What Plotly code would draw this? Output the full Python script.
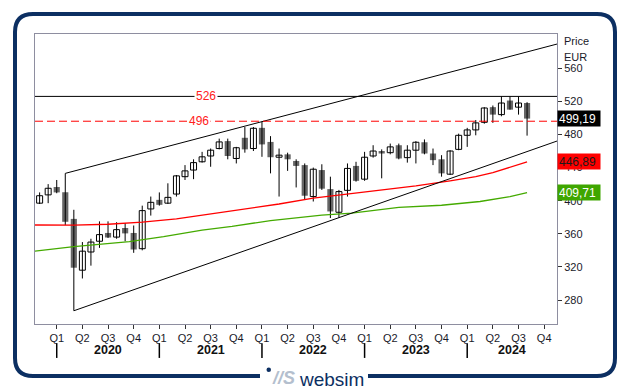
import plotly.graph_objects as go

# ---------------- data ----------------
months = ["2019-11", "2019-12",
          "2020-01", "2020-02", "2020-03", "2020-04", "2020-05", "2020-06",
          "2020-07", "2020-08", "2020-09", "2020-10", "2020-11", "2020-12",
          "2021-01", "2021-02", "2021-03", "2021-04", "2021-05", "2021-06",
          "2021-07", "2021-08", "2021-09", "2021-10", "2021-11", "2021-12",
          "2022-01", "2022-02", "2022-03", "2022-04", "2022-05", "2022-06",
          "2022-07", "2022-08", "2022-09", "2022-10", "2022-11", "2022-12",
          "2023-01", "2023-02", "2023-03", "2023-04", "2023-05", "2023-06",
          "2023-07", "2023-08", "2023-09", "2023-10", "2023-11", "2023-12",
          "2024-01", "2024-02", "2024-03", "2024-04", "2024-05", "2024-06",
          "2024-07", "2024-08"]

opens = [397, 407,
         416.5, 410.2, 378, 316, 338, 351,
         361, 356, 367, 361, 342, 390,
         401, 397, 408, 429, 437, 447,
         454, 463, 472, 451, 476, 463,
         488, 471, 452.5, 456, 448, 443,
         405, 437, 414, 386, 412.5, 442,
         426, 454, 460, 458, 467, 452,
         461, 470.6, 457, 450, 432, 462,
         479, 485.5, 494.7, 513, 504, 521,
         513, 518]
highs = [410, 420,
         425, 433, 389, 350, 354, 375,
         375, 374, 373, 370, 394, 405,
         410, 421, 431, 443, 450, 459,
         463, 475, 475, 465, 489, 489,
         495.5, 478, 463, 458, 450, 445,
         440, 444, 429, 413, 445, 447,
         459, 467, 462, 469, 469, 467,
         472, 474, 463, 455, 461, 481,
         488, 497.5, 513, 515, 526, 526,
         526, 519]
lows = [396, 397,
        409, 370.5, 267, 306, 321.5, 343,
        355, 354, 351, 337, 340, 382,
        394, 396, 405, 425, 426, 446,
        441, 462, 450, 445, 458, 460,
        453, 433, 405, 436, 416, 402,
        399, 413, 379, 379.5, 405, 423,
        424, 452, 427, 456, 450, 446,
        445, 456, 443, 429, 431, 461,
        465, 479, 493, 494, 502, 510,
        504, 478.6]
closes = [406, 415,
          410, 374.5, 319, 339, 350, 359,
          355.5, 365, 360.5, 341, 388, 398,
          395, 404, 430, 436, 446, 453,
          461, 471, 454, 464, 462, 487.5,
          468, 452.5, 455, 450, 442, 406,
          438, 414.5, 387, 411, 439, 424,
          452.5, 460, 457, 465, 451, 461,
          470.6, 457, 449, 433, 460, 479,
          485.5, 494, 512, 504, 518, 510,
          518, 499.19]

# moving averages (month index from Jan 2020, value)
red_ma_x = [-2.6, 2, 6, 10, 14, 18, 22, 26, 30, 34, 38, 42, 46, 49, 51, 53, 55]
red_ma = [370.6, 370.5, 371.5, 374, 378, 384, 390, 396, 403, 408, 413, 418, 424, 429, 434, 440, 446.89]
green_ma_x = [-2.6, 2, 8.5, 12.5, 17, 20.5, 25, 31, 34.5, 40, 45, 49.5, 53, 55]
green_ma = [339, 344.5, 350.5, 356.5, 364.5, 369, 376, 382.5, 385, 392, 394.5, 399, 405, 409.71]

resistance = 526
support = 496
y_ticks = [280, 320, 360, 400, 440, 480, 520, 560]
quarter_labels = ["Q1", "Q2", "Q3", "Q4"]
years = [2020, 2021, 2022, 2023, 2024]

# ---------------- helpers ----------------
def midx(s):
    y, m = s.split("-")
    return (int(y) - 2020) * 12 + int(m) - 1

xs = [midx(m) for m in months]
X_MIN, X_MAX = -2.54, 58.5
Y_MIN, Y_MAX = 251, 601.4
FONT = "Arial, Liberation Sans, sans-serif"
NAVY = "#0c2f62"

fig = go.Figure()

# wicks
wx, wy = [], []
for x, h, l in zip(xs, highs, lows):
    wx += [x, x, None]
    wy += [l, h, None]
fig.add_trace(go.Scatter(x=wx, y=wy, mode="lines", line=dict(color="black", width=1),
                         hoverinfo="skip", showlegend=False))

# moving averages
fig.add_trace(go.Scatter(x=red_ma_x, y=red_ma, mode="lines",
                         line=dict(color="#ff0000", width=1.3), showlegend=False))
fig.add_trace(go.Scatter(x=green_ma_x, y=green_ma, mode="lines",
                         line=dict(color="#44aa00", width=1.3), showlegend=False))

# trend channel lines (anchored on candle extremes, extended to the right edge)
def ext_line(x1, y1, x2, y2):
    slope = (y2 - y1) / (x2 - x1)
    return [x1, X_MAX], [y1, y1 + slope * (X_MAX - x1)]

i_feb20 = months.index("2020-02"); i_jan22 = months.index("2022-01")
i_mar20 = months.index("2020-03"); i_oct22 = months.index("2022-10")
ux, uy = ext_line(xs[i_feb20], highs[i_feb20], xs[i_jan22], highs[i_jan22])
lx, ly = ext_line(xs[i_mar20], lows[i_mar20], xs[i_oct22], lows[i_oct22])
fig.add_trace(go.Scatter(x=ux, y=uy, mode="lines", line=dict(color="black", width=1), showlegend=False))
fig.add_trace(go.Scatter(x=lx, y=ly, mode="lines", line=dict(color="black", width=1), showlegend=False))

# horizontal levels
fig.add_trace(go.Scatter(x=[X_MIN, X_MAX], y=[resistance, resistance], mode="lines",
                         line=dict(color="black", width=1), showlegend=False))
fig.add_trace(go.Scatter(x=[X_MIN, X_MAX], y=[support, support], mode="lines",
                         line=dict(color="#ff0000", width=1, dash="8px,4px"), showlegend=False))

# candle bodies
ux_b, ub, uh, dx_b, db, dh = [], [], [], [], [], []
for x, o, c in zip(xs, opens, closes):
    lo, hi = min(o, c), max(o, c)
    hgt = max(hi - lo, 0.8)
    if c >= o:
        ux_b.append(x); ub.append(lo); uh.append(hgt)
    else:
        dx_b.append(x); db.append(lo); dh.append(hgt)
fig.add_trace(go.Bar(x=ux_b, y=uh, base=ub, width=0.7,
                     marker=dict(color="white", line=dict(color="black", width=1)), showlegend=False))
fig.add_trace(go.Bar(x=dx_b, y=dh, base=db, width=0.72,
                     marker=dict(color="#666666", line=dict(color="#666666", width=0)), showlegend=False))

# level labels
fig.add_annotation(x=17.5, y=resistance, text=str(resistance), showarrow=False,
                   font=dict(color="#ff2020", size=12, family=FONT), bgcolor="white", borderpad=1)
fig.add_annotation(x=16.6, y=support, text=str(support), showarrow=False,
                   font=dict(color="#ff2020", size=12, family=FONT), bgcolor="white", borderpad=1)

# price boxes on right axis
def fmt(v):
    return f"{v:.2f}".replace(".", ",")

for val, bg, fg in [(closes[-1], "black", "white"), (red_ma[-1], "#ff0000", "#1a1a1a"),
                    (green_ma[-1], "#3fa600", "white")]:
    fig.add_annotation(xref="paper", x=1.0, xanchor="left", y=val, yref="y", yanchor="middle",
                       text=fmt(val), showarrow=False, bgcolor=bg,
                       font=dict(color=fg, size=12, family=FONT),
                       width=40, height=13, align="left", borderpad=1)

# axis header
fig.add_annotation(xref="paper", yref="paper", x=1.0096, y=0.976, xanchor="left", yanchor="middle",
                   text="Price", showarrow=False, font=dict(size=11, color="#1a1a2a", family=FONT))
fig.add_annotation(xref="paper", yref="paper", x=1.0096, y=0.921, xanchor="left", yanchor="middle",
                   text="EUR", showarrow=False, font=dict(size=11, color="#1a1a2a", family=FONT))

# x axis: quarters + years
q_vals, q_text = [], []
for k in range(0, 20):
    q_vals.append(k * 3)
    q_text.append(quarter_labels[k % 4])

for yr in years:
    start = (yr - 2020) * 12
    end = min(start + 12, X_MAX)
    fig.add_annotation(x=(start + end) / 2, y=-0.09, xref="x", yref="paper", text=f"<b>{yr}</b>",
                       xanchor="center", yanchor="middle",
                       showarrow=False, font=dict(size=12.5, color="#111", family=FONT))
    fig.add_shape(type="line", xref="x", yref="paper", x0=start, x1=start, y0=-0.066, y1=-0.117,
                  line=dict(color="black", width=1.5))

# outer rounded frame with gap for logo (pixel -> paper)
L_M, T_M, PW, PH = 35, 34, 522, 290
def px(xp): return (xp - L_M) / PW
def py(yp): return (T_M + PH - yp) / PH

fl, fr, ft, fb, r = 15, 615, 14, 376, 18
gap0, gap1 = 260, 368
pts = [("M", gap1, fb), ("L", fr - r, fb), ("Q", fr, fb, fr, fb - r), ("L", fr, ft + r),
       ("Q", fr, ft, fr - r, ft), ("L", fl + r, ft), ("Q", fl, ft, fl, ft + r),
       ("L", fl, fb - r), ("Q", fl, fb, fl + r, fb), ("L", gap0, fb)]
path = ""
for p in pts:
    if p[0] == "Q":
        path += f"Q{px(p[1]):.5f},{py(p[2]):.5f} {px(p[3]):.5f},{py(p[4]):.5f} "
    else:
        path += f"{p[0]}{px(p[1]):.5f},{py(p[2]):.5f} "
fig.add_shape(type="path", xref="paper", yref="paper", path=path.strip(),
              line=dict(color=NAVY, width=4))

# logo
fig.add_shape(type="circle", xref="paper", yref="paper", x0=px(266.5), x1=px(271), y0=py(367.5), y1=py(372),
              fillcolor=NAVY, line=dict(width=0))
fig.add_annotation(xref="paper", yref="paper", x=px(283), y=py(378), xanchor="center", yanchor="middle",
                   text="<b><i>//S</i></b>",
                   showarrow=False, font=dict(size=18, color="#b4bfce", family=FONT))
fig.add_annotation(xref="paper", yref="paper", x=px(331), y=py(379), xanchor="center", yanchor="middle",
                   text="websim",
                   showarrow=False, font=dict(size=19, color=NAVY, family=FONT))

fig.update_layout(
    width=630, height=391,
    margin=dict(l=35, r=73, t=34, b=67),
    paper_bgcolor="white", plot_bgcolor="white",
    barmode="overlay", showlegend=False,
    font=dict(family=FONT, color="#1a1a2a"),
    xaxis=dict(range=[X_MIN, X_MAX], tickvals=q_vals, ticktext=q_text, ticks="outside",
               ticklen=4, tickcolor="#333", showgrid=False, zeroline=False,
               showline=True, mirror=True, linecolor="#8e8ea0", linewidth=1,
               tickfont=dict(size=11, color="#1a1a2a")),
    yaxis=dict(range=[Y_MIN, Y_MAX], side="right", tickvals=y_ticks, ticks="outside",
               ticklen=4, tickcolor="#333", showgrid=False, zeroline=False,
               showline=True, mirror=True, linecolor="#8e8ea0", linewidth=1,
               tickfont=dict(size=11, color="#1a1a2a")),
)

fig.write_html("out.html", config={"displayModeBar": False},
               post_script="document.body.style.margin='0';document.body.style.padding='0';")
